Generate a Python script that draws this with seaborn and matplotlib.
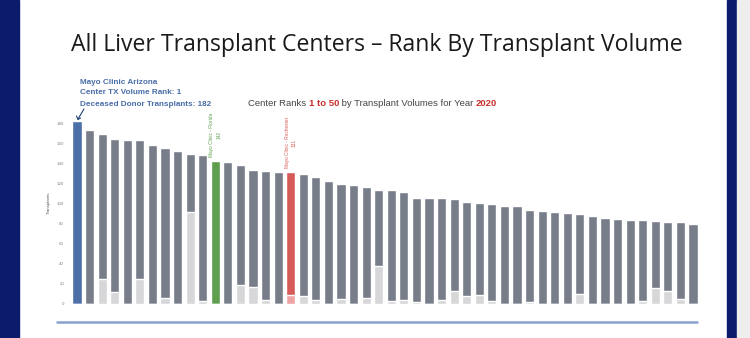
import matplotlib
matplotlib.use("Agg")
import matplotlib.pyplot as plt
import seaborn as sns
import pandas as pd
import numpy as np
from matplotlib.patches import Rectangle
from matplotlib.lines import Line2D

sns.set_theme(style="white")
plt.rcParams['font.family'] = ['Liberation Sans', 'DejaVu Sans']

ranks = list(range(1, 51))
total_tx = [182, 173, 169, 164, 163, 163, 158, 155, 152, 149,
            148, 142, 141, 138, 133, 132, 131, 131, 129, 126,
            122, 119, 118, 116, 113, 113, 111, 105, 105, 105,
            104, 101, 100, 99, 97, 97, 93, 92, 91, 90,
            89, 87, 85, 84, 83, 83, 82, 81, 81, 79]
lower_part = [0, 0, 24, 11, 0, 24, 0, 5, 0, 91,
              2, 0, 0, 18, 16, 3, 0, 8, 7, 3,
              0, 4, 0, 5, 37, 2, 3, 1, 0, 3,
              12, 7, 8, 2, 0, 0, 1, 0, 0, 0,
              9, 0, 0, 0, 0, 2, 15, 12, 4, 0]
y_ticks = [0, 20, 40, 60, 80, 100, 120, 140, 160, 180]

DARK = "#787d8a"
LIGHT = "#d7d7d9"
BLUE = "#4b6fa6"
GREEN = "#5f9e4f"
RED = "#d65a58"
PINK = "#f0a3a3"

top_colors = [DARK] * 50
top_colors[0] = BLUE
top_colors[11] = GREEN
top_colors[17] = RED
low_colors = [LIGHT] * 50
low_colors[17] = PINK

W, H = 750, 338
fig = plt.figure(figsize=(7.5, 3.38), dpi=100)
fig.patch.set_facecolor("white")

# slide borders
fig.patches.append(Rectangle((0, 0), 19 / W, 1, transform=fig.transFigure, color="#0d1b6b", zorder=0))
fig.patches.append(Rectangle((727 / W, 0), 10 / W, 1, transform=fig.transFigure, color="#0d1b6b", zorder=0))
fig.patches.append(Rectangle((737 / W, 0), 13 / W, 1, transform=fig.transFigure, color="#eeeeee", zorder=0))

# chart axes
x0 = 68.2
x1 = 701.8
ybot = 303.5
ytop = 303.5 - 200.5
ax = fig.add_axes([x0 / W, (H - ybot) / H, (x1 - x0) / W, (ybot - ytop) / H])
ax.set_facecolor("none")

df = pd.DataFrame({"rank": [str(r) for r in ranks], "total": total_tx, "lower": lower_part})
sns.barplot(data=df, x="rank", y="total", hue="rank", palette=top_colors,
            width=0.72, legend=False, ax=ax, saturation=1)
sns.barplot(data=df, x="rank", y="lower", hue="rank", palette=low_colors,
            width=0.72, legend=False, ax=ax, saturation=1)

ax.set_xlim(-0.7, 49.7)
ax.set_ylim(0, 200)
ax.set_yticks(y_ticks)
ax.set_yticklabels([str(t) for t in y_ticks], fontsize=3.2, color="#888888")
ax.tick_params(axis="y", length=0, pad=3)
ax.set_xticks([])
ax.set_xlabel("")
ax.set_ylabel("Transplants", fontsize=3.2, color="#555555", labelpad=4)
for s in ax.spines.values():
    s.set_visible(False)

# bar annotations
ax.text(11, 146, "Mayo Clinic - Florida\n142", rotation=90, ha="center", va="bottom",
        multialignment="center", fontsize=3.4, color=GREEN, linespacing=1.6)
ax.text(17, 135, "Mayo Clinic - Rochester\n131", rotation=90, ha="center", va="bottom",
        multialignment="center", fontsize=3.4, color=RED, linespacing=1.6)

# title
fig.text(377 / W, 1 - 45 / H, "All Liver Transplant Centers \u2013 Rank By Transplant Volume",
         ha="center", va="center", fontsize=16.6, color="#1a1a1a", fontfamily=["Open Sans", "DejaVu Sans"])

# highlight annotation
for i, line in enumerate(["Mayo Clinic Arizona", "Center TX Volume Rank: 1",
                          "Deceased Donor Transplants: 182"]):
    fig.text(80 / W, 1 - (82 + i * 11) / H, line, ha="left", va="center",
             fontsize=5.9, fontweight="bold", color="#4a6ea8")
fig.add_artist(Line2D([84 / W, 78 / W], [1 - 109 / H, 1 - 119 / H], transform=fig.transFigure,
                      color="#1f3f77", lw=0.8))
fig.add_artist(Line2D([76.5 / W, 78 / W, 80.5 / W], [1 - 116 / H, 1 - 119.5 / H, 1 - 118 / H],
                      transform=fig.transFigure, color="#1f3f77", lw=0.8))

# subtitle with coloured parts
renderer = fig.canvas.get_renderer()
parts = [("Center Ranks ", "#444444", "normal"), ("1 to 50", "#c9302c", "bold"),
         (" by Transplant Volumes for Year ", "#444444", "normal"), ("2020", "#c9302c", "bold")]
xpos = 248
for txt, col, wt in parts:
    t = fig.text(xpos / W, 1 - 103 / H, txt, ha="left", va="center", fontsize=6.8,
                 color=col, fontweight=wt)
    bb = t.get_window_extent(renderer=renderer)
    xpos += bb.width

# bottom rule
fig.add_artist(Line2D([57 / W, 697 / W], [1 - 322 / H, 1 - 322 / H], transform=fig.transFigure,
                      color="#86a3cf", lw=1.8))

fig.savefig("out.png", dpi=100)
